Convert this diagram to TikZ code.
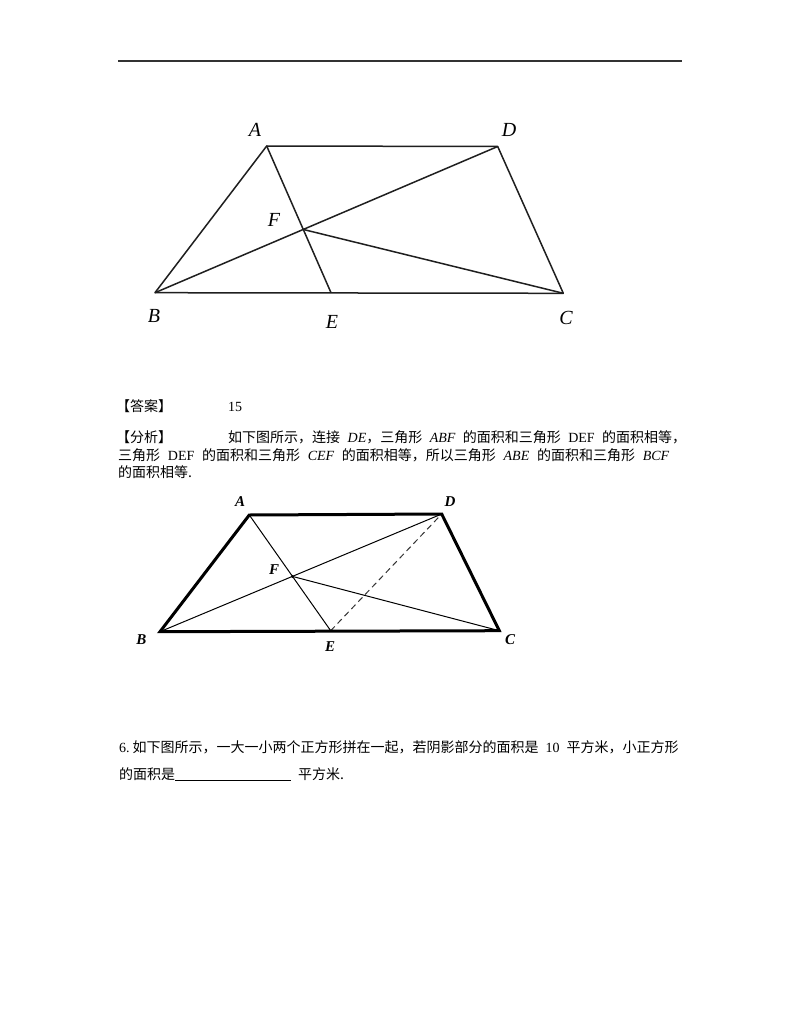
\documentclass[tikz,border=0pt]{standalone}
\usepackage{fontspec}
\setmainfont{Liberation Serif}
\newfontfamily\cjk{Noto Sans CJK SC}
\newcommand\Li[1]{{\rmfamily\itshape #1}}
\newcommand\Lu[1]{{\rmfamily #1}}
\tikzset{
  txt/.style={anchor=base west, inner sep=0pt, font=\fontsize{14}{17}\selectfont\cjk},
  lbla/.style={inner sep=0pt, font=\fontsize{20}{20}\selectfont\itshape},
  lblb/.style={inner sep=0pt, font=\fontsize{15}{15}\selectfont\bfseries\itshape},
  figa/.style={line width=1.5pt, draw=black!88, line join=round},
  thickb/.style={line width=3pt, draw=black, line join=miter},
  thinb/.style={line width=1pt, draw=black},
  dashb/.style={line width=1pt, draw=black!80, dash pattern=on 6pt off 4pt},
  rulel/.style={line width=2pt, draw=black!80}
}
\begin{document}
\begin{tikzpicture}[x=1pt,y=-1pt]
\fill[white] (0,0) rectangle (800,1035);
\useasboundingbox (0,0) rectangle (800,1035);

% top rule
\coordinate (r1) at (118,61);
\coordinate (r2) at (682,61);
\draw[rulel] (r1) -- (r2);

% ---------- figure 1 ----------
\coordinate (A1) at (266.7,146);
\coordinate (D1) at (497.7,146.5);
\coordinate (B1) at (155,292.7);
\coordinate (C1) at (563.3,293.3);
\coordinate (E1) at (331,292.7);
\coordinate (F1) at (intersection of A1--E1 and B1--D1);
\draw[figa] (A1) -- (D1) -- (C1) -- (B1) -- cycle;
\draw[figa] (A1) -- (E1);
\draw[figa] (B1) -- (D1);
\draw[figa] (F1) -- (C1);
\node[lbla] (lA1) at (255,130) {A};
\node[lbla] (lD1) at (509,130) {D};
\node[lbla] (lF1) at (274,220) {F};
\node[lbla] (lB1) at (154,316) {B};
\node[lbla] (lE1) at (332,322) {E};
\node[lbla] (lC1) at (566,318) {C};

% ---------- text ----------
\node[txt] (ans) at (116,411) {【答案】};
\node[txt] (ansv) at (228,411) {\Lu{15}};
\node[txt] (fx) at (116,442) {【分析】};
\node[txt] (l1) at (228,442) {\makebox[458pt][s]{如下图所示，连接 \Li{DE}，三角形 \Li{ABF} 的面积和三角形 \Lu{DEF} 的面积相等，}};
\node[txt] (l2) at (118,460) {\makebox[551pt][s]{三角形 \Lu{DEF} 的面积和三角形 \Li{CEF} 的面积相等，所以三角形 \Li{ABE} 的面积和三角形 \Li{BCF}}};
\node[txt] (l3) at (118,477) {的面积相等.};

% ---------- figure 2 ----------
\coordinate (A2) at (249.3,515);
\coordinate (D2) at (441.7,514);
\coordinate (B2) at (160,631.7);
\coordinate (C2) at (499.3,630.7);
\coordinate (E2) at (330.7,630.7);
\coordinate (F2) at (intersection of A2--E2 and B2--D2);
\draw[thinb] (A2) -- (E2);
\draw[thinb] (B2) -- (D2);
\draw[thinb] (F2) -- (C2);
\draw[dashb] (E2) -- (D2);
\draw[thickb] (A2) -- (D2) -- (C2) -- (B2) -- cycle;
\fill (F2) circle (1.6);
\node[lblb] (lA2) at (240,501.5) {A};
\node[lblb] (lD2) at (450,501.5) {D};
\node[lblb] (lF2) at (274,570) {F};
\node[lblb] (lB2) at (141.5,640) {B};
\node[lblb] (lE2) at (330,647) {E};
\node[lblb] (lC2) at (510,640) {C};

% ---------- question 6 ----------
\node[txt] (q1) at (119,752) {\Lu{6.}\hspace{3pt}如下图所示，一大一小两个正方形拼在一起，若阴影部分的面积是\hspace{7pt}\Lu{10}\hspace{7pt}平方米，小正方形};
\node[txt] (q2) at (119,779) {的面积是};
\coordinate (u1) at ([yshift=-1pt]q2.base east);
\coordinate (u2) at ([xshift=116pt]u1);
\draw[line width=0.8pt] (u1) -- (u2);
\node[txt] (q3) at (298,779) {平方米.};
\end{tikzpicture}
\end{document}
